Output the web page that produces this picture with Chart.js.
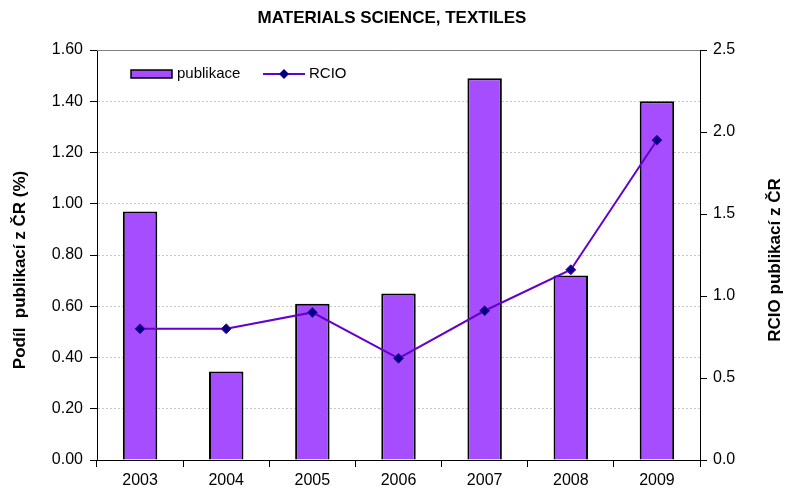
<!DOCTYPE html>
<html>
<head>
<meta charset="utf-8">
<script src="https://cdn.jsdelivr.net/npm/chart.js@4/dist/chart.umd.min.js"></script>
<style>
  html, body { margin: 0; padding: 0; background: #fff; }
  #wrap { width: 787px; height: 488px; }
</style>
</head>
<body>
<div id="wrap"><canvas id="chart" width="787" height="488"></canvas></div>
<script>
const years = ['2003', '2004', '2005', '2006', '2007', '2008', '2009'];
const publikace = [0.97, 0.345, 0.61, 0.65, 1.49, 0.72, 1.40];
const rcio = [0.80, 0.80, 0.90, 0.62, 0.91, 1.16, 1.95];

const FONT = 'Arial, "Liberation Sans", sans-serif';

// title, axis titles, plot top border and legend drawn by hand
const decor = {
  id: 'decor',
  afterDraw(chart) {
    const ctx = chart.ctx;
    const a = chart.chartArea;
    ctx.save();
    ctx.strokeStyle = '#808080';
    ctx.lineWidth = 1;
    ctx.beginPath();
    ctx.moveTo(a.left, a.top + 0.5);
    ctx.lineTo(a.right, a.top + 0.5);
    ctx.stroke();

    ctx.fillStyle = '#000';
    ctx.font = 'bold 17px ' + FONT;
    ctx.textAlign = 'center';
    ctx.textBaseline = 'middle';
    ctx.fillText('MATERIALS SCIENCE, TEXTILES', 392, 18);

    // axis titles, both reading bottom to top
    ctx.font = 'bold 17px ' + FONT;
    ctx.save();
    ctx.translate(20, 270);
    ctx.rotate(-Math.PI / 2);
    ctx.fillText('Podíl  publikací z ČR (%)', 0, 0);
    ctx.restore();
    ctx.save();
    ctx.translate(775, 260);
    ctx.rotate(-Math.PI / 2);
    ctx.fillText('RCIO publikací z ČR', 0, 0);
    ctx.restore();

    // legend
    ctx.font = '15px ' + FONT;
    ctx.textAlign = 'left';
    ctx.fillStyle = '#a64dff';
    ctx.fillRect(131, 70, 41, 8);
    ctx.strokeStyle = '#000';
    ctx.lineWidth = 1.5;
    ctx.strokeRect(131, 70, 41, 8);
    ctx.fillStyle = '#000';
    ctx.fillText('publikace', 177, 74);

    ctx.strokeStyle = '#6600cc';
    ctx.lineWidth = 2;
    ctx.beginPath();
    ctx.moveTo(263, 74);
    ctx.lineTo(305, 74);
    ctx.stroke();
    ctx.fillStyle = '#000080';
    ctx.beginPath();
    ctx.moveTo(284, 69);
    ctx.lineTo(289, 74);
    ctx.lineTo(284, 79);
    ctx.lineTo(279, 74);
    ctx.closePath();
    ctx.fill();
    ctx.fillStyle = '#000';
    ctx.fillText('RCIO', 309, 74);
    ctx.restore();
  }
};

new Chart(document.getElementById('chart'), {
  data: {
    labels: years,
    datasets: [
      {
        type: 'line',
        label: 'RCIO',
        data: rcio,
        yAxisID: 'y1',
        order: 0,
        borderColor: '#6600cc',
        borderWidth: 2,
        pointStyle: 'rectRot',
        pointRadius: 5,
        pointBackgroundColor: '#000080',
        pointBorderColor: '#5a00b0',
        pointBorderWidth: 1,
        tension: 0
      },
      {
        type: 'bar',
        label: 'publikace',
        data: publikace,
        yAxisID: 'y',
        order: 1,
        backgroundColor: '#a64dff',
        borderColor: '#000',
        borderWidth: 2,
        barPercentage: 0.4,
        categoryPercentage: 1
      }
    ]
  },
  options: {
    responsive: false,
    animation: false,
    layout: { padding: { top: 50, left: 0, right: 0, bottom: 0 } },
    plugins: {
      legend: { display: false },
      title: { display: false },
      tooltip: { enabled: false }
    },
    scales: {
      x: {
        offset: true,
        grid: { offset: true, drawOnChartArea: false, tickLength: 7, color: '#000' },
        border: { color: '#000', width: 1 },
        ticks: { color: '#000', font: { family: FONT, size: 16 }, padding: 4 },
        afterFit(s) { s.height = 28; }
      },
      y: {
        position: 'left',
        min: 0,
        max: 1.6,
        ticks: {
          stepSize: 0.2,
          color: '#000',
          font: { family: FONT, size: 16 },
          padding: 7,
          callback: v => v.toFixed(2)
        },
        grid: { color: '#c8c8c8', tickColor: '#000', tickLength: 7, lineWidth: 1 },
        border: { color: '#000', width: 1, dash: [2, 2] },
        afterFit(s) { s.width = 97; }
      },
      y1: {
        position: 'right',
        min: 0,
        max: 2.5,
        ticks: {
          stepSize: 0.5,
          color: '#000',
          font: { family: FONT, size: 16 },
          padding: 6,
          callback: v => v.toFixed(1)
        },
        grid: { drawOnChartArea: false, tickColor: '#000', tickLength: 7 },
        border: { color: '#000', width: 1 },
        afterFit(s) { s.width = 87; }
      }
    }
  },
  plugins: [decor]
});
</script>
</body>
</html>
